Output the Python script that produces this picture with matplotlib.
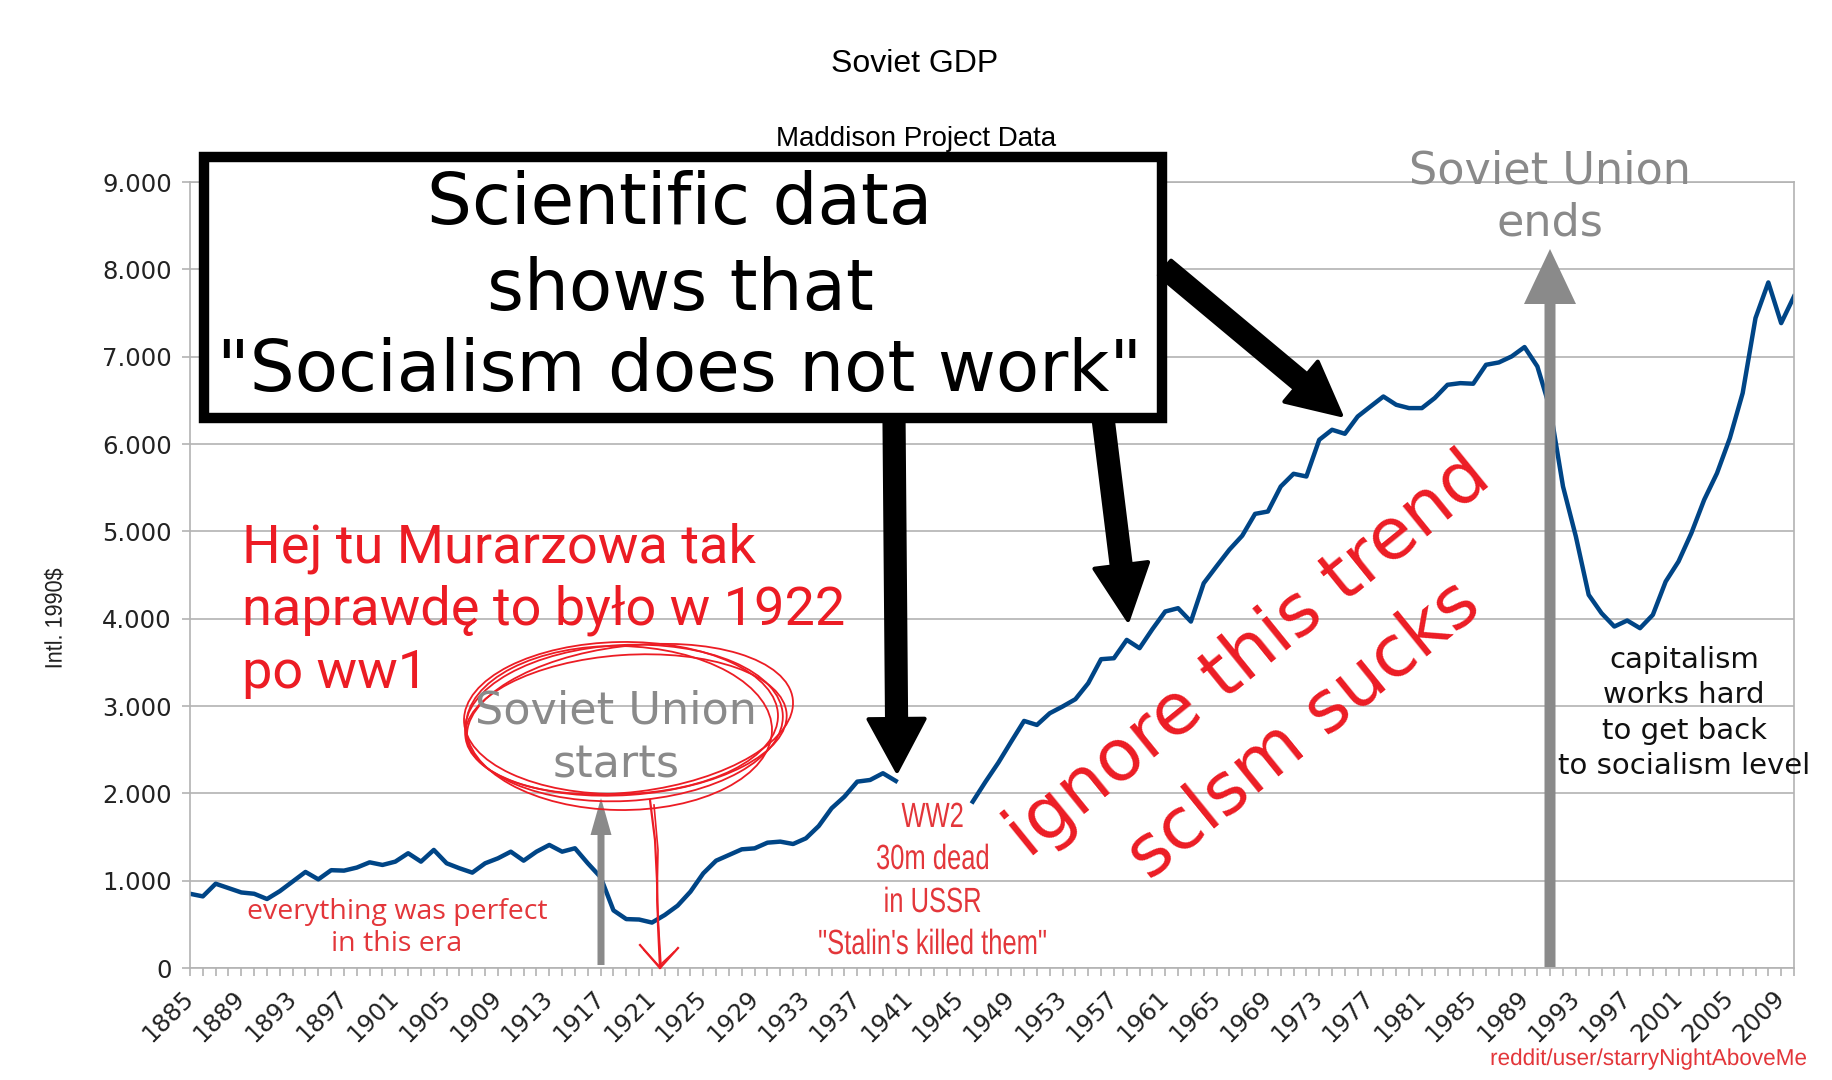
import numpy as np
import matplotlib
matplotlib.use('Agg')
import matplotlib.pyplot as plt
from matplotlib.patches import FancyArrow, Rectangle, Ellipse, PathPatch
from matplotlib.textpath import TextPath
from matplotlib.font_manager import FontProperties
from matplotlib.transforms import Affine2D

# --- Дані (Maddison, USSR GDP per capita, 1990 Int. $) ---
years = np.arange(1885, 2011)
gdp_pre_war = [850, 820, 965, 915, 865, 850, 790, 880, 990, 1100,
               1015, 1120, 1115, 1150, 1210, 1180, 1218, 1314, 1218, 1352,
               1199, 1142, 1092, 1199, 1256, 1332, 1229, 1332, 1409, 1332,
               1371, 1199, 1040, 660, 560, 555, 520, 607, 714, 874,
               1084, 1229, 1294, 1359, 1370, 1435, 1447, 1420, 1485, 1626,
               1829, 1962, 2134, 2153, 2230, 2142]          # 1885-1940
gdp_war_gap = [np.nan] * 5                                  # 1941-1945
gdp_post_war = [1905, 2134, 2352, 2593, 2829, 2783, 2917, 2994, 3078, 3261,
                3536, 3547, 3757, 3662, 3880, 4082, 4120, 3967, 4406, 4600,
                4790, 4950, 5200, 5227, 5513, 5659, 5628, 6048, 6163, 6117,
                6315, 6430, 6544, 6449, 6411, 6411, 6526, 6678, 6697, 6690,
                6907, 6934, 7003, 7110, 6888, 6400, 5513, 4941, 4273, 4063,
                3910, 3979, 3891, 4044, 4425, 4655, 4979, 5361, 5666, 6067,
                6583, 7442, 7850, 7384, 7690]                # 1946-2010
gdp = np.array(gdp_pre_war + gdp_war_gap + gdp_post_war, dtype=float)

y_ticks = [0, 1000, 2000, 3000, 4000, 5000, 6000, 7000, 8000, 9000]
y_tick_labels = ['0', '1.000', '2.000', '3.000', '4.000', '5.000',
                 '6.000', '7.000', '8.000', '9.000']
x_tick_labels = [str(y) if (y - 1885) % 4 == 0 else '' for y in years]

W, H = 1832, 1080
RED = '#ec1c24'
RED2 = '#e3363a'
GREY = '#8a8a8a'
GRID = '#b3b3b3'

fig = plt.figure(figsize=(W / 100, H / 100), dpi=100)
fig.patch.set_facecolor('white')

# --- Основний графік ---
ax = fig.add_axes([190 / W, 1 - 968 / H, (1794 - 190) / W, (968 - 182) / H])
ax.plot(years, gdp, color='#004586', lw=3.2, solid_joinstyle='round')
ax.set_xlim(1885, 2010)
ax.set_ylim(0, 9000)
ax.set_yticks(y_ticks)
ax.set_yticklabels(y_tick_labels, fontsize=17.5, family='DejaVu Sans', color='#222222')
ax.set_xticks(years)
ax.set_xticklabels(x_tick_labels, fontsize=17.5, family='DejaVu Sans', color='#222222',
                   rotation=45, ha='right', va='center', rotation_mode='anchor')
ax.tick_params(axis='both', color=GRID, length=6, width=1.2)
ax.tick_params(axis='y', pad=7)
ax.tick_params(axis='x', pad=13)
ax.grid(axis='y', color=GRID, lw=1.2)
ax.set_axisbelow(True)
for s in ax.spines.values():
    s.set_color(GRID)
    s.set_linewidth(1.2)

# --- Шар анотацій у пікселях ---
ov = fig.add_axes([0, 0, 1, 1])
ov.set_xlim(0, W)
ov.set_ylim(H, 0)
ov.axis('off')
ov.patch.set_alpha(0)


def narrow_text(x, y, s, size, color, sx=0.75, ha='center', rot=0, vcenter=False):
    # вузький шрифт: Liberation Sans, стиснутий по горизонталі
    tp = TextPath((0, 0), s, size=size, prop=FontProperties(family='Liberation Sans'))
    ext = tp.get_extents()
    w = ext.x1 * sx
    dx = {'center': -w / 2, 'right': -w, 'left': 0}[ha]
    dy = size * 0.36 if vcenter else 0
    tr = Affine2D().scale(sx, -1).translate(dx, dy).rotate_deg(-rot).translate(x, y)
    ov.add_patch(PathPatch(tr.transform_path(tp), fc=color, ec='none', lw=0))


ov.text(915, 72, 'Soviet GDP', fontsize=23, family='Liberation Sans', ha='center', va='baseline')
ov.text(916, 146, 'Maddison Project Data', fontsize=20, family='Liberation Sans', ha='center', va='baseline')
narrow_text(53, 619, 'Intl. 1990$', 24, '#222222', sx=0.9, rot=90, vcenter=True)

# сірі стрілки
ov.add_patch(FancyArrow(601, 965, 0, 798 - 965, width=7, head_width=21, head_length=37,
                        length_includes_head=True, color=GREY, lw=0))
ov.add_patch(FancyArrow(1550, 967, 0, 249 - 967, width=11, head_width=52, head_length=55,
                        length_includes_head=True, color=GREY, lw=0))

for txt, yb in [('Soviet Union', 724), ('starts', 777)]:
    ov.text(616, yb, txt, fontsize=32, family='DejaVu Sans', color=GREY, ha='center', va='baseline')
for txt, yb in [('Soviet Union', 183), ('ends', 236)]:
    ov.text(1550, yb, txt, fontsize=32, family='DejaVu Sans', color=GREY, ha='center', va='baseline')

# червоний еліпс від руки
ellipse_strokes = [(624, 723, 318, 156, -3), (630, 719, 328, 146, -7),
                   (619, 728, 306, 164, 1), (626, 725, 322, 140, -4),
                   (621, 718, 314, 152, -1)]
for cx, cy, ew, eh, ang in ellipse_strokes:
    ov.add_patch(Ellipse((cx, cy), ew, eh, angle=ang, fill=False, ec=RED, lw=1.3))
# червона стрілка від руки
ov.plot([650, 655, 657, 658, 660], [800, 840, 880, 925, 968], color=RED, lw=1.6)
ov.plot([654, 658, 657, 661], [805, 850, 900, 966], color=RED, lw=1.2)
ov.plot([640, 660, 678], [945, 968, 948], color=RED, lw=1.6)
ov.plot([644, 659, 674], [950, 966, 952], color=RED, lw=1.2)

# чорна рамка з текстом
ov.add_patch(Rectangle((204, 157), 958, 261, fc='white', ec='black', lw=7.5, zorder=3))
for txt, yb in [('Scientific data', 224), ('shows that', 310), ('"Socialism does not work"', 391)]:
    ov.text(680, yb, txt, fontsize=51, family='DejaVu Sans', ha='center', va='baseline', zorder=4)

# чорні стрілки
black_arrows = [((894, 418), (897, 771), 19, 56, 52),
                ((1103, 418), (1128, 620), 19, 54, 55),
                ((1165, 268), (1341, 415), 19, 52, 52)]
for (x0, y0), (x1, y1), wd, hw, hl in black_arrows:
    ov.add_patch(FancyArrow(x0, y0, x1 - x0, y1 - y0, width=wd, head_width=hw, head_length=hl,
                            length_includes_head=True, fc='black', ec='black', lw=3,
                            joinstyle='round', zorder=3))

# червоні написи
for txt, yb in [('Hej tu Murarzowa tak', 562), ('naprawdę to było w 1922', 625), ('po ww1', 688)]:
    ov.text(242, yb, txt, fontsize=39, family='Roboto', color=RED, ha='left', va='baseline')

for txt, yb in [('everything was perfect', 919), ('in this era', 951)]:
    ov.text(397, yb, txt, fontsize=20.5, family='Open Sans', color=RED2, ha='center', va='baseline')

for txt, yb in [('WW2', 827), ('30m dead', 869), ('in USSR', 912), ('"Stalin\'s killed them"', 954)]:
    narrow_text(932, yb, txt, 35, RED2, sx=0.73)

ov.text(1261, 671, 'ignore this trend', fontsize=52, family='DejaVu Sans', color=RED,
        rotation=39, rotation_mode='anchor', ha='center', va='baseline')
ov.text(1317, 746, 'sclsm sucks', fontsize=52, family='DejaVu Sans', color=RED,
        rotation=39, rotation_mode='anchor', ha='center', va='baseline')

for txt, yb in [('capitalism', 668), ('works hard', 703), ('to get back', 739), ('to socialism level', 774)]:
    ov.text(1684, yb, txt, fontsize=21, family='DejaVu Sans', color='#111111', ha='center', va='baseline')

narrow_text(1806, 1065, 'reddit/user/starryNightAboveMe', 23, RED2, sx=0.98, ha='right')

fig.savefig('out.png', dpi=100)
